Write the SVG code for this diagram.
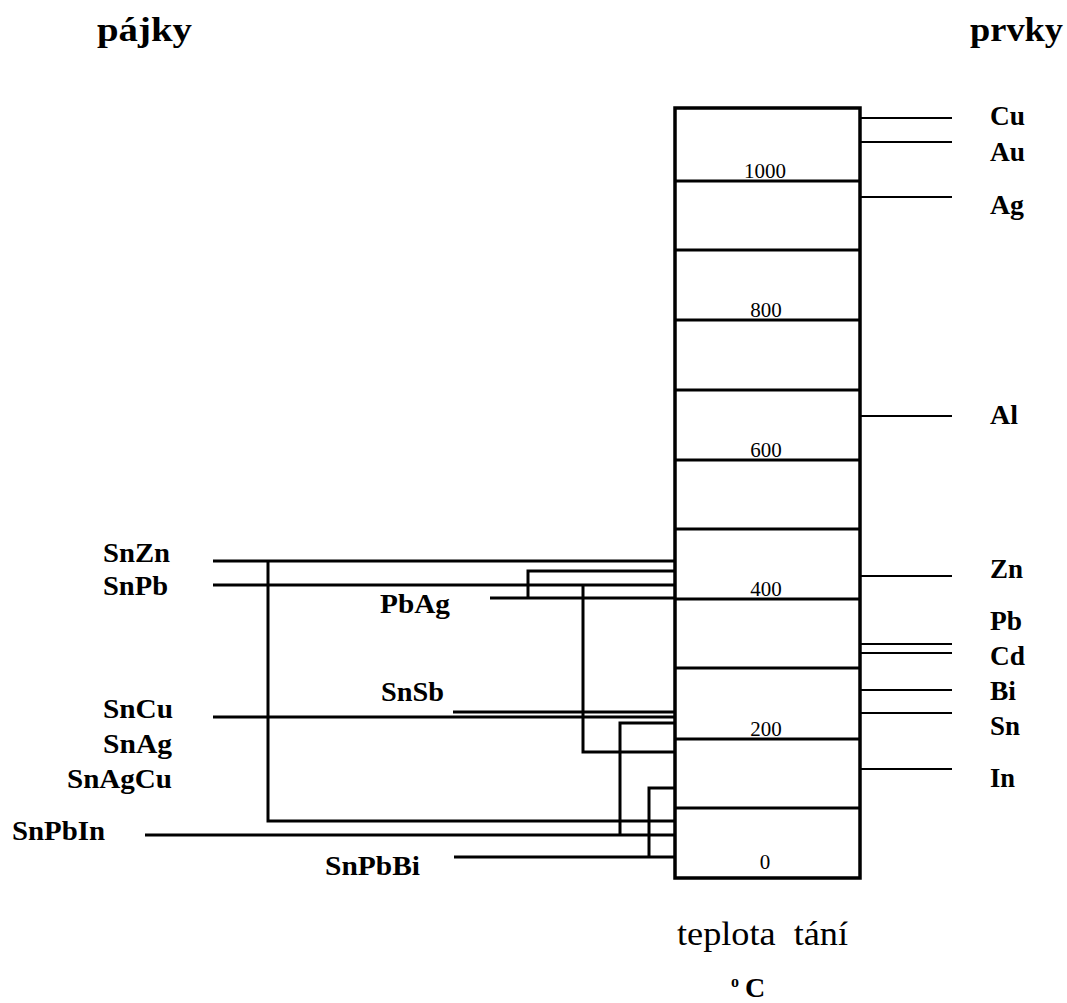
<svg xmlns="http://www.w3.org/2000/svg" width="1067" height="1003" viewBox="0 0 1067 1003">
<style>
.lbl{font-family:"Liberation Serif","Times New Roman",serif;font-weight:bold;font-size:27px;fill:#000}
.hdr{font-family:"Liberation Serif","Times New Roman",serif;font-weight:bold;font-size:34px;fill:#000}
.num{font-family:"Liberation Serif","Times New Roman",serif;font-size:21px;fill:#000;text-anchor:middle}
.cap{font-family:"Liberation Serif","Times New Roman",serif;font-size:33px;fill:#000}
.box{fill:none;stroke:#000;stroke-width:3.5}
.div{stroke:#000;stroke-width:3}
.con{fill:none;stroke:#000;stroke-width:3}
.thin{stroke:#000;stroke-width:2}
</style>
<rect width="1067" height="1003" fill="#fff"/>
<g id="headers">
<text class="hdr" x="97" y="41" textLength="95" lengthAdjust="spacingAndGlyphs">pájky</text>
<text class="hdr" x="970" y="41" textLength="93" lengthAdjust="spacingAndGlyphs">prvky</text>
</g>
<g id="scale">
<rect class="box" x="675" y="108" width="185" height="770"/>
<line class="div" x1="675" y1="181" x2="860" y2="181"/>
<line class="div" x1="675" y1="250" x2="860" y2="250"/>
<line class="div" x1="675" y1="320" x2="860" y2="320"/>
<line class="div" x1="675" y1="390" x2="860" y2="390"/>
<line class="div" x1="675" y1="460" x2="860" y2="460"/>
<line class="div" x1="675" y1="529" x2="860" y2="529"/>
<line class="div" x1="675" y1="599" x2="860" y2="599"/>
<line class="div" x1="675" y1="668" x2="860" y2="668"/>
<line class="div" x1="675" y1="739" x2="860" y2="739"/>
<line class="div" x1="675" y1="808" x2="860" y2="808"/>
<text class="num" x="765" y="178">1000</text>
<text class="num" x="766" y="317">800</text>
<text class="num" x="766" y="457">600</text>
<text class="num" x="766" y="596">400</text>
<text class="num" x="766" y="736">200</text>
<text class="num" x="765" y="869">0</text>
</g>
<g id="axis-title">
<text class="cap" x="677" y="945" textLength="171" lengthAdjust="spacingAndGlyphs" xml:space="preserve">teplota  tání</text>
<text class="lbl" x="731" y="987" style="font-size:16px">o</text>
<text class="lbl" x="745" y="997" style="font-size:28px">C</text>
</g>
<g id="connectors">
<line class="thin" x1="861" y1="118" x2="952" y2="118"/>
<line class="thin" x1="861" y1="142" x2="952" y2="142"/>
<line class="thin" x1="861" y1="197" x2="952" y2="197"/>
<line class="thin" x1="861" y1="416" x2="952" y2="416"/>
<line class="thin" x1="861" y1="576" x2="952" y2="576"/>
<line class="thin" x1="861" y1="644" x2="952" y2="644"/>
<line class="thin" x1="861" y1="653" x2="952" y2="653"/>
<line class="thin" x1="861" y1="690" x2="952" y2="690"/>
<line class="thin" x1="861" y1="713" x2="952" y2="713"/>
<line class="thin" x1="861" y1="769" x2="952" y2="769"/>
<line class="con" x1="213" y1="561" x2="675" y2="561"/>
<polyline class="con" points="268,561 268,821 675,821"/>
<line class="con" x1="213" y1="585" x2="675" y2="585"/>
<polyline class="con" points="583,585 583,752 675,752"/>
<line class="con" x1="490" y1="598" x2="675" y2="598"/>
<polyline class="con" points="528,598 528,571 675,571"/>
<line class="con" x1="453" y1="712" x2="675" y2="712"/>
<line class="con" x1="213" y1="717" x2="675" y2="717"/>
<line class="con" x1="145" y1="835" x2="675" y2="835"/>
<polyline class="con" points="620,835 620,723 675,723"/>
<line class="con" x1="454" y1="857" x2="675" y2="857"/>
<polyline class="con" points="649,857 649,788 675,788"/>
</g>
<g id="solders">
<text class="lbl" x="103" y="562" textLength="67" lengthAdjust="spacingAndGlyphs">SnZn</text>
<text class="lbl" x="103" y="595" textLength="65" lengthAdjust="spacingAndGlyphs">SnPb</text>
<text class="lbl" x="380" y="613" textLength="70" lengthAdjust="spacingAndGlyphs">PbAg</text>
<text class="lbl" x="381" y="701" textLength="63" lengthAdjust="spacingAndGlyphs">SnSb</text>
<text class="lbl" x="103" y="718" textLength="70" lengthAdjust="spacingAndGlyphs">SnCu</text>
<text class="lbl" x="103" y="753" textLength="69" lengthAdjust="spacingAndGlyphs">SnAg</text>
<text class="lbl" x="67" y="788" textLength="105" lengthAdjust="spacingAndGlyphs">SnAgCu</text>
<text class="lbl" x="12" y="840" textLength="93" lengthAdjust="spacingAndGlyphs">SnPbIn</text>
<text class="lbl" x="325" y="875" textLength="95" lengthAdjust="spacingAndGlyphs">SnPbBi</text>
</g>
<g id="elements">
<text class="lbl" x="990" y="125" textLength="35" lengthAdjust="spacingAndGlyphs">Cu</text>
<text class="lbl" x="990" y="161" textLength="35" lengthAdjust="spacingAndGlyphs">Au</text>
<text class="lbl" x="990" y="214" textLength="34" lengthAdjust="spacingAndGlyphs">Ag</text>
<text class="lbl" x="990" y="424" textLength="28" lengthAdjust="spacingAndGlyphs">Al</text>
<text class="lbl" x="990" y="578" textLength="33" lengthAdjust="spacingAndGlyphs">Zn</text>
<text class="lbl" x="990" y="630" textLength="32" lengthAdjust="spacingAndGlyphs">Pb</text>
<text class="lbl" x="990" y="665" textLength="35" lengthAdjust="spacingAndGlyphs">Cd</text>
<text class="lbl" x="990" y="700" textLength="26" lengthAdjust="spacingAndGlyphs">Bi</text>
<text class="lbl" x="990" y="735" textLength="30" lengthAdjust="spacingAndGlyphs">Sn</text>
<text class="lbl" x="990" y="787" textLength="25" lengthAdjust="spacingAndGlyphs">In</text>
</g>
</svg>
